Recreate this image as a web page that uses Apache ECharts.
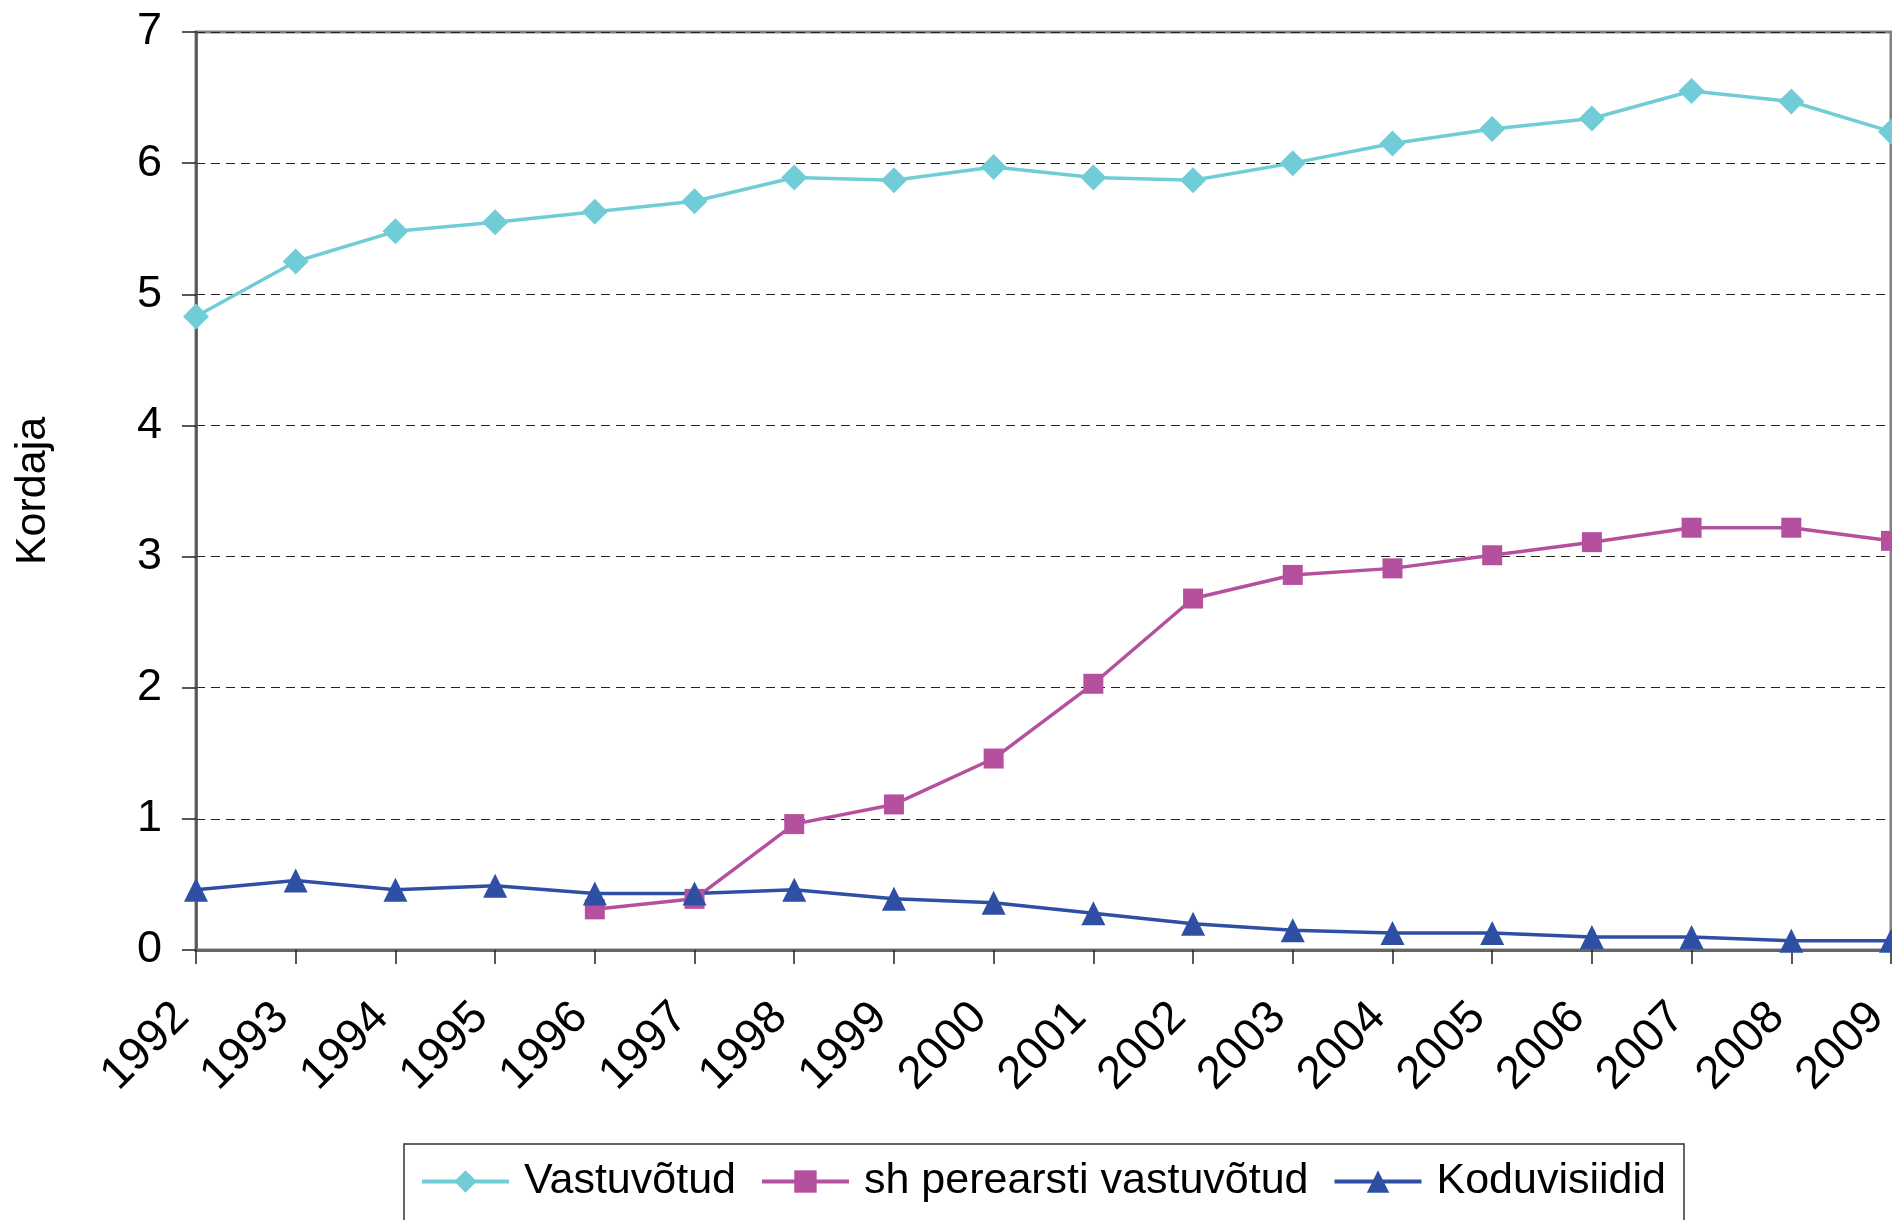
<!DOCTYPE html>
<html>
<head>
<meta charset="utf-8">
<title>Kordaja</title>
<script src="https://cdn.jsdelivr.net/npm/echarts@6/dist/echarts.min.js"></script>
<style>
  html, body { margin: 0; padding: 0; background: #fff; }
  #chart { width: 1892px; height: 1220px; }
</style>
</head>
<body>
<div id="chart"></div>
<script>
var years = ["1992", "1993", "1994", "1995", "1996", "1997", "1998", "1999", "2000",
    "2001", "2002", "2003", "2004", "2005", "2006", "2007", "2008", "2009"];
var vastuvotud = [4.83, 5.25, 5.48, 5.55, 5.63, 5.71, 5.89, 5.87, 5.97,
    5.89, 5.87, 6.0, 6.15, 6.26, 6.34, 6.55, 6.47, 6.24];
var perearsti = [null, null, null, null, 0.31, 0.39, 0.96, 1.11, 1.46,
    2.03, 2.68, 2.86, 2.91, 3.01, 3.11, 3.22, 3.22, 3.12];
var koduvisiidid = [0.46, 0.53, 0.46, 0.49, 0.43, 0.43, 0.46, 0.39, 0.36,
    0.28, 0.20, 0.15, 0.13, 0.13, 0.10, 0.10, 0.07, 0.07];
var yTicks = [0, 7, 1]; // min, max, step

var font = "Liberation Sans, Arial, sans-serif";
var chart = echarts.init(document.getElementById("chart"));

function lineSeries(name, data, color, symbol, size) {
    return {
        name: name,
        type: "line",
        data: data,
        symbol: symbol,
        symbolSize: size,
        showAllSymbol: true,
        lineStyle: { color: color, width: 3.5 },
        itemStyle: { color: color },
        emphasis: { disabled: true },
        animation: false
    };
}

chart.setOption({
    animation: false,
    textStyle: { fontFamily: font },
    grid: {
        left: 196, right: 1, top: 32, bottom: 270,
        containLabel: false, outerBoundsMode: "none",
        show: true, borderColor: "#808080", borderWidth: 3
    },
    legend: {
        left: 404, top: 1144,
        padding: [16, 18, 40, 16],
        borderColor: "#333", borderWidth: 1.5,
        itemWidth: 87, itemHeight: 28, itemGap: 24,
        lineStyle: { width: 4 },
        textStyle: { fontSize: 43, color: "#000", fontFamily: font, padding: [0, 0, 0, 10] },
        data: ["Vastuvõtud", "sh perearsti vastuvõtud", "Koduvisiidid"]
    },
    xAxis: {
        type: "category",
        data: years,
        boundaryGap: false,
        axisLine: { lineStyle: { color: "#666", width: 3 } },
        axisTick: { show: true, length: 14, interval: 0, lineStyle: { color: "#222", width: 1.5 } },
        axisLabel: {
            interval: 0, rotate: 45, margin: 46, fontSize: 46, color: "#000",
            fontFamily: font, padding: [0, 20, 0, 0]
        },
        splitLine: { show: false }
    },
    yAxis: {
        type: "value",
        min: yTicks[0], max: yTicks[1], interval: yTicks[2],
        name: "Kordaja",
        nameLocation: "middle",
        nameRotate: 90,
        nameGap: 141,
        nameTextStyle: { fontSize: 43, color: "#000", fontFamily: font },
        axisLine: { show: true, lineStyle: { color: "#555", width: 2.5 } },
        axisTick: { show: true, length: 14, lineStyle: { color: "#222", width: 1.5 } },
        axisLabel: { margin: 34, fontSize: 45, color: "#000", fontFamily: font },
        splitLine: { show: true, lineStyle: { color: "#222", width: 1.2, type: [9, 6] } }
    },
    series: [
        lineSeries("Vastuvõtud", vastuvotud, "#70CDD8", "diamond", 26),
        lineSeries("sh perearsti vastuvõtud", perearsti, "#B5509F", "rect", 20),
        lineSeries("Koduvisiidid", koduvisiidid, "#2E4FA3", "triangle", [24, 24])
    ]
});
</script>
</body>
</html>
